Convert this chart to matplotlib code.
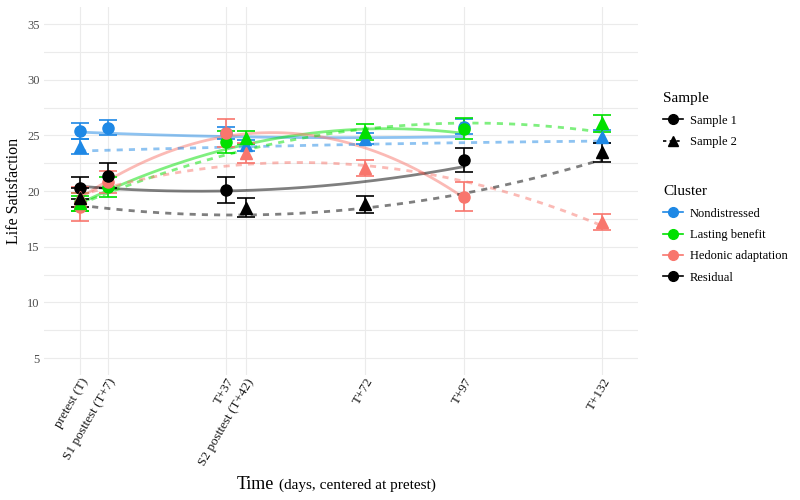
import numpy as np
import matplotlib
matplotlib.use("Agg")
import matplotlib.pyplot as plt
from matplotlib.lines import Line2D

plt.rcParams['font.family'] = ['Liberation Serif', 'DejaVu Serif']

# ---------------- data ----------------
clusters = ["Nondistressed", "Lasting benefit", "Hedonic adaptation", "Residual"]
colors = ["#1E88E5", "#00E000", "#F8766D", "#000000"]

times_s1 = [0, 7, 37, 97]
times_s2 = [0, 42, 72, 132]

tick_pos = [0, 7, 37, 42, 72, 97, 132]
tick_labels = ["pretest (T)", "S1 posttest (T+7)", "T+37", "S2 posttest (T+42)",
               "T+72", "T+97", "T+132"]

# Sample 1 means / standard errors
s1_nond = [25.4, 25.7, 25.2, 25.8]
s1_last = [19.0, 20.4, 24.4, 25.6]
s1_hedo = [18.6, 20.8, 25.2, 19.5]
s1_resi = [20.3, 21.4, 20.1, 22.8]
s1_nond_se = [0.7, 0.65, 0.55, 0.7]
s1_last_se = [0.8, 0.9, 1.0, 0.95]
s1_hedo_se = [1.25, 1.0, 1.25, 1.3]
s1_resi_se = [1.0, 1.1, 1.15, 1.1]

# Sample 2 means / standard errors
s2_nond = [24.0, 24.1, 24.7, 24.9]
s2_last = [18.9, 24.8, 25.3, 26.1]
s2_hedo = [19.5, 23.4, 22.1, 17.2]
s2_resi = [19.4, 18.5, 18.8, 23.5]
s2_nond_se = [0.65, 0.5, 0.5, 0.6]
s2_last_se = [0.7, 0.6, 0.7, 0.75]
s2_hedo_se = [0.9, 0.9, 0.7, 0.7]
s2_resi_se = [0.85, 0.85, 0.8, 0.85]

# fitted trajectory values (read at the measurement times)
s1_nond_fit = [25.3, 25.2, 24.9, 24.9]
s1_last_fit = [18.7, 20.3, 23.7, 25.2]
s1_hedo_fit = [19.3, 21.0, 24.9, 19.4]
s1_resi_fit = [20.4, 20.3, 20.0, 22.2]
s2_nond_fit = [23.6, 24.0, 24.2, 24.5]
s2_last_fit = [18.8, 23.8, 25.5, 25.3]
s2_hedo_fit = [19.4, 23.2, 21.6, 17.0]
s2_resi_fit = [18.8, 17.6, 18.7, 22.8]

s1_means = [s1_nond, s1_last, s1_hedo, s1_resi]
s1_ses = [s1_nond_se, s1_last_se, s1_hedo_se, s1_resi_se]
s1_fits = [s1_nond_fit, s1_last_fit, s1_hedo_fit, s1_resi_fit]
s2_means = [s2_nond, s2_last, s2_hedo, s2_resi]
s2_ses = [s2_nond_se, s2_last_se, s2_hedo_se, s2_resi_se]
s2_fits = [s2_nond_fit, s2_last_fit, s2_hedo_fit, s2_resi_fit]

# ---------------- figure ----------------
fig = plt.figure(figsize=(8, 5), dpi=100)
ax = fig.add_axes([0.055, 0.2506, 0.7425, 0.7344])

ax.set_xlim(-9.1, 141.0)
ax.set_ylim(3.5, 36.5)

# grid
for y in np.arange(5, 36, 2.5):
    ax.axhline(y, color="#EBEBEB", lw=0.8, zorder=0)
for x in tick_pos:
    ax.axvline(x, color="#EBEBEB", lw=0.8, zorder=0)
for s in ax.spines.values():
    s.set_visible(False)

def draw_sample(times, means, ses, fits, marker, ls, msize):
    t = np.array(times, dtype=float)
    xx = np.linspace(t.min(), t.max(), 200)
    for m, e, f, c in zip(means, ses, fits, colors):
        coef = np.polyfit(t, f, 2)
        kw = dict(dashes=(2.2, 2.2)) if ls == "--" else {}
        ax.plot(xx, np.polyval(coef, xx), color=c, alpha=0.5, lw=2.0,
                ls=ls, zorder=2, **kw)
    for m, e, f, c in zip(means, ses, fits, colors):
        ax.errorbar(times, m, yerr=e, fmt="none", ecolor=c, elinewidth=1.2,
                    capsize=6.5, capthick=1.2, zorder=3)
        ax.plot(times, m, ls="none", marker=marker, ms=msize, color=c,
                mec=c, zorder=4)

draw_sample(times_s1, s1_means, s1_ses, s1_fits, "o", "-", 8)
draw_sample(times_s2, s2_means, s2_ses, s2_fits, "^", "--", 9)

ax.set_yticks([5, 10, 15, 20, 25, 30, 35])
ax.set_yticklabels(["5", "10", "15", "20", "25", "30", "35"], fontsize=9, color="#4D4D4D")
ax.set_xticks(tick_pos)
ax.set_xticklabels(tick_labels, rotation=60, ha="right", rotation_mode="anchor",
                   fontsize=9.5, color="#1A1A1A")
ax.tick_params(axis="both", length=0, pad=3)
ax.tick_params(axis="x", pad=1)

ax.set_ylabel("Life Satisfaction", fontsize=11.5, labelpad=4)

# x label with two font sizes
fig.canvas.draw()
renderer = fig.canvas.get_renderer()
t1 = fig.text(237 / 800, 0.022, "Time", fontsize=13, ha="left", va="baseline")
w1 = t1.get_window_extent(renderer).x1
fig.text((w1 + 5) / 800, 0.022, "(days, centered at pretest)", fontsize=11,
         ha="left", va="baseline")

# legends
sample_handles = [
    Line2D([], [], color="black", marker="o", ls="-", ms=7, lw=1.2),
    Line2D([], [], color="black", marker="^", ls="--", ms=7, lw=1.2, dashes=(2, 2)),
]
leg1 = fig.legend(sample_handles, ["Sample 1", "Sample 2"], title="Sample",
                  loc="upper left", bbox_to_anchor=(0.815, 0.838), frameon=False,
                  fontsize=9, title_fontsize=11, handlelength=1.6, labelspacing=0.75,
                  handletextpad=0.5, alignment="left")
cluster_handles = [Line2D([], [], color=c, marker="o", ls="-", ms=7, lw=1.2)
                   for c in colors]
leg2 = fig.legend(cluster_handles, clusters, title="Cluster",
                  loc="upper left", bbox_to_anchor=(0.815, 0.652), frameon=False,
                  fontsize=9, title_fontsize=11, handlelength=1.6, labelspacing=0.75,
                  handletextpad=0.5, alignment="left")

fig.savefig("out.png", dpi=100, facecolor="white")
